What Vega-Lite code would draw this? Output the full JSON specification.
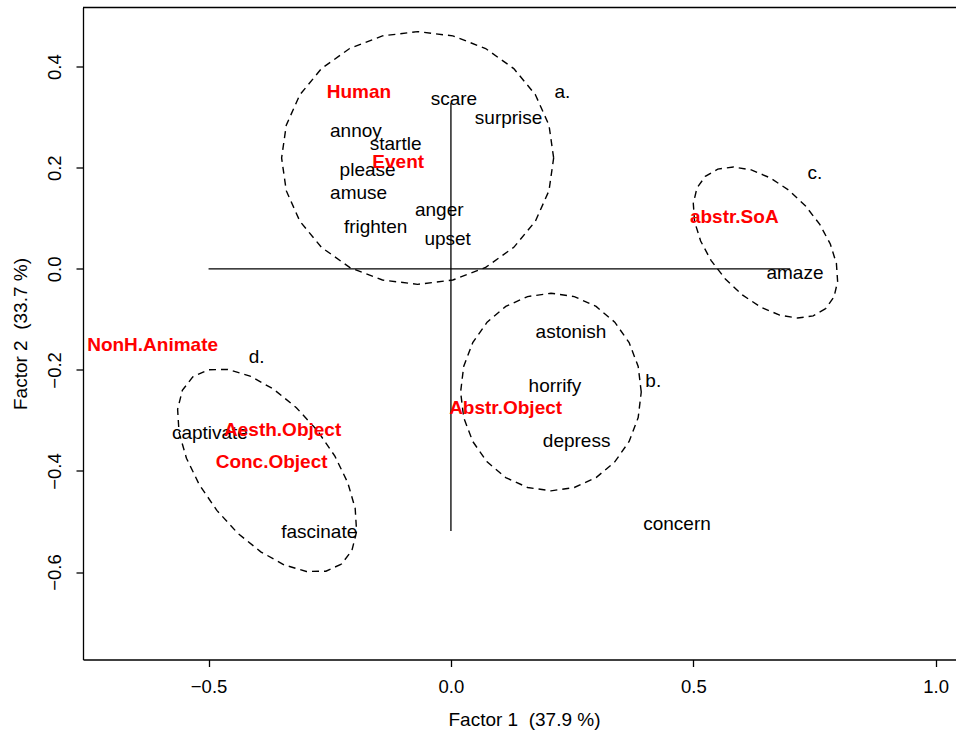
{
  "$schema": "https://vega.github.io/schema/vega-lite/v6.json",
  "autosize": {"type": "none"},
  "width": 873,
  "height": 652,
  "padding": {"left": 83, "top": 7.5, "right": 0, "bottom": 70.5},
  "background": "white",
  "datasets": {
    "rules": [
      {"x": -0.5, "x2": 0.70, "y": 0, "y2": 0},
      {"x": 0, "x2": 0, "y": 0.3275, "y2": -0.519},
      {"x": -0.759, "x2": 1.0419, "y": 0.517, "y2": 0.517}
    ],
    "ell": [
      {"grp": "a", "ord": 0, "x": 0.2119, "y": 0.2193},
      {"grp": "a", "ord": 1, "x": 0.2023, "y": 0.2840},
      {"grp": "a", "ord": 2, "x": 0.1743, "y": 0.3443},
      {"grp": "a", "ord": 3, "x": 0.1297, "y": 0.3961},
      {"grp": "a", "ord": 4, "x": 0.0716, "y": 0.4358},
      {"grp": "a", "ord": 5, "x": 0.0039, "y": 0.4608},
      {"grp": "a", "ord": 6, "x": -0.0687, "y": 0.4693},
      {"grp": "a", "ord": 7, "x": -0.1413, "y": 0.4608},
      {"grp": "a", "ord": 8, "x": -0.2090, "y": 0.4358},
      {"grp": "a", "ord": 9, "x": -0.2671, "y": 0.3961},
      {"grp": "a", "ord": 10, "x": -0.3117, "y": 0.3443},
      {"grp": "a", "ord": 11, "x": -0.3397, "y": 0.2840},
      {"grp": "a", "ord": 12, "x": -0.3493, "y": 0.2193},
      {"grp": "a", "ord": 13, "x": -0.3397, "y": 0.1546},
      {"grp": "a", "ord": 14, "x": -0.3117, "y": 0.0943},
      {"grp": "a", "ord": 15, "x": -0.2671, "y": 0.0425},
      {"grp": "a", "ord": 16, "x": -0.2090, "y": 0.0028},
      {"grp": "a", "ord": 17, "x": -0.1413, "y": -0.0222},
      {"grp": "a", "ord": 18, "x": -0.0687, "y": -0.0307},
      {"grp": "a", "ord": 19, "x": 0.0039, "y": -0.0222},
      {"grp": "a", "ord": 20, "x": 0.0716, "y": 0.0028},
      {"grp": "a", "ord": 21, "x": 0.1297, "y": 0.0425},
      {"grp": "a", "ord": 22, "x": 0.1743, "y": 0.0943},
      {"grp": "a", "ord": 23, "x": 0.2023, "y": 0.1546},
      {"grp": "a", "ord": 24, "x": 0.2119, "y": 0.2193},

      {"grp": "b", "ord": 0, "x": 0.3926, "y": -0.2438},
      {"grp": "b", "ord": 1, "x": 0.3863, "y": -0.1932},
      {"grp": "b", "ord": 2, "x": 0.3676, "y": -0.1460},
      {"grp": "b", "ord": 3, "x": 0.3380, "y": -0.1056},
      {"grp": "b", "ord": 4, "x": 0.2995, "y": -0.0745},
      {"grp": "b", "ord": 5, "x": 0.2545, "y": -0.0550},
      {"grp": "b", "ord": 6, "x": 0.2063, "y": -0.0483},
      {"grp": "b", "ord": 7, "x": 0.1581, "y": -0.0550},
      {"grp": "b", "ord": 8, "x": 0.1131, "y": -0.0745},
      {"grp": "b", "ord": 9, "x": 0.0746, "y": -0.1056},
      {"grp": "b", "ord": 10, "x": 0.0450, "y": -0.1460},
      {"grp": "b", "ord": 11, "x": 0.0263, "y": -0.1932},
      {"grp": "b", "ord": 12, "x": 0.0200, "y": -0.2438},
      {"grp": "b", "ord": 13, "x": 0.0263, "y": -0.2944},
      {"grp": "b", "ord": 14, "x": 0.0450, "y": -0.3416},
      {"grp": "b", "ord": 15, "x": 0.0746, "y": -0.3820},
      {"grp": "b", "ord": 16, "x": 0.1131, "y": -0.4131},
      {"grp": "b", "ord": 17, "x": 0.1581, "y": -0.4326},
      {"grp": "b", "ord": 18, "x": 0.2063, "y": -0.4393},
      {"grp": "b", "ord": 19, "x": 0.2545, "y": -0.4326},
      {"grp": "b", "ord": 20, "x": 0.2995, "y": -0.4131},
      {"grp": "b", "ord": 21, "x": 0.3380, "y": -0.3820},
      {"grp": "b", "ord": 22, "x": 0.3676, "y": -0.3416},
      {"grp": "b", "ord": 23, "x": 0.3863, "y": -0.2944},
      {"grp": "b", "ord": 24, "x": 0.3926, "y": -0.2438},

      {"grp": "c", "ord": 0, "x": 0.7730, "y": -0.0789},
      {"grp": "c", "ord": 1, "x": 0.7473, "y": -0.0931},
      {"grp": "c", "ord": 2, "x": 0.7150, "y": -0.0974},
      {"grp": "c", "ord": 3, "x": 0.6781, "y": -0.0916},
      {"grp": "c", "ord": 4, "x": 0.6393, "y": -0.0759},
      {"grp": "c", "ord": 5, "x": 0.6011, "y": -0.0516},
      {"grp": "c", "ord": 6, "x": 0.5661, "y": -0.0201},
      {"grp": "c", "ord": 7, "x": 0.5368, "y": 0.0162},
      {"grp": "c", "ord": 8, "x": 0.5151, "y": 0.0550},
      {"grp": "c", "ord": 9, "x": 0.5026, "y": 0.0936},
      {"grp": "c", "ord": 10, "x": 0.5000, "y": 0.1293},
      {"grp": "c", "ord": 11, "x": 0.5075, "y": 0.1598},
      {"grp": "c", "ord": 12, "x": 0.5247, "y": 0.1830},
      {"grp": "c", "ord": 13, "x": 0.5504, "y": 0.1972},
      {"grp": "c", "ord": 14, "x": 0.5827, "y": 0.2015},
      {"grp": "c", "ord": 15, "x": 0.6196, "y": 0.1957},
      {"grp": "c", "ord": 16, "x": 0.6585, "y": 0.1800},
      {"grp": "c", "ord": 17, "x": 0.6967, "y": 0.1557},
      {"grp": "c", "ord": 18, "x": 0.7316, "y": 0.1242},
      {"grp": "c", "ord": 19, "x": 0.7609, "y": 0.0879},
      {"grp": "c", "ord": 20, "x": 0.7826, "y": 0.0491},
      {"grp": "c", "ord": 21, "x": 0.7952, "y": 0.0105},
      {"grp": "c", "ord": 22, "x": 0.7977, "y": -0.0252},
      {"grp": "c", "ord": 23, "x": 0.7902, "y": -0.0557},
      {"grp": "c", "ord": 24, "x": 0.7730, "y": -0.0789},

      {"grp": "d", "ord": 0, "x": -0.2259, "y": -0.5842},
      {"grp": "d", "ord": 1, "x": -0.2579, "y": -0.5983},
      {"grp": "d", "ord": 2, "x": -0.2982, "y": -0.5988},
      {"grp": "d", "ord": 3, "x": -0.3441, "y": -0.5858},
      {"grp": "d", "ord": 4, "x": -0.3923, "y": -0.5599},
      {"grp": "d", "ord": 5, "x": -0.4397, "y": -0.5232},
      {"grp": "d", "ord": 6, "x": -0.4829, "y": -0.4779},
      {"grp": "d", "ord": 7, "x": -0.5190, "y": -0.4273},
      {"grp": "d", "ord": 8, "x": -0.5456, "y": -0.3747},
      {"grp": "d", "ord": 9, "x": -0.5609, "y": -0.3238},
      {"grp": "d", "ord": 10, "x": -0.5638, "y": -0.2781},
      {"grp": "d", "ord": 11, "x": -0.5541, "y": -0.2405},
      {"grp": "d", "ord": 12, "x": -0.5325, "y": -0.2138},
      {"grp": "d", "ord": 13, "x": -0.5005, "y": -0.1997},
      {"grp": "d", "ord": 14, "x": -0.4602, "y": -0.1991},
      {"grp": "d", "ord": 15, "x": -0.4143, "y": -0.2122},
      {"grp": "d", "ord": 16, "x": -0.3661, "y": -0.2380},
      {"grp": "d", "ord": 17, "x": -0.3188, "y": -0.2748},
      {"grp": "d", "ord": 18, "x": -0.2756, "y": -0.3200},
      {"grp": "d", "ord": 19, "x": -0.2394, "y": -0.3706},
      {"grp": "d", "ord": 20, "x": -0.2128, "y": -0.4232},
      {"grp": "d", "ord": 21, "x": -0.1975, "y": -0.4741},
      {"grp": "d", "ord": 22, "x": -0.1946, "y": -0.5199},
      {"grp": "d", "ord": 23, "x": -0.2043, "y": -0.5574},
      {"grp": "d", "ord": 24, "x": -0.2259, "y": -0.5842}
    ],
    "words": [
      {"label": "scare", "x": 0.0062, "y": 0.3350},
      {"label": "surprise", "x": 0.1190, "y": 0.2984},
      {"label": "a.", "x": 0.2300, "y": 0.3489},
      {"label": "annoy", "x": -0.1960, "y": 0.2717},
      {"label": "startle", "x": -0.1141, "y": 0.2470},
      {"label": "please", "x": -0.1719, "y": 0.1955},
      {"label": "amuse", "x": -0.1904, "y": 0.1500},
      {"label": "anger", "x": -0.0241, "y": 0.1164},
      {"label": "frighten", "x": -0.1554, "y": 0.0827},
      {"label": "upset", "x": -0.0068, "y": 0.0584},
      {"label": "c.", "x": 0.7510, "y": 0.1902},
      {"label": "amaze", "x": 0.7097, "y": -0.0077},
      {"label": "astonish", "x": 0.2476, "y": -0.1257},
      {"label": "horrify", "x": 0.2146, "y": -0.2319},
      {"label": "b.", "x": 0.4174, "y": -0.2220},
      {"label": "depress", "x": 0.2593, "y": -0.3408},
      {"label": "concern", "x": 0.4663, "y": -0.5051},
      {"label": "d.", "x": -0.4009, "y": -0.1740},
      {"label": "captivate", "x": -0.4972, "y": -0.3256},
      {"label": "fascinate", "x": -0.2717, "y": -0.5203}
    ],
    "cats": [
      {"label": "Human", "x": -0.1898, "y": 0.3499},
      {"label": "Event", "x": -0.1087, "y": 0.2114},
      {"label": "abstr.SoA", "x": 0.5845, "y": 0.1031},
      {"label": "NonH.Animate", "x": -0.6154, "y": -0.1508},
      {"label": "Abstr.Object", "x": 0.1128, "y": -0.2749},
      {"label": "Aesth.Object", "x": -0.3472, "y": -0.3190},
      {"label": "Conc.Object", "x": -0.3699, "y": -0.3817}
    ]
  },
  "encoding": {
    "x": {
      "field": "x", "type": "quantitative",
      "scale": {"domain": [-0.759, 1.0419], "nice": false, "zero": false},
      "axis": {
        "title": "Factor 1\u00a0 (37.9 %)",
        "values": [-0.5, 0, 0.5, 1],
        "format": ".1f",
        "titleX": 441, "titleY": 66
      }
    },
    "y": {
      "field": "y", "type": "quantitative",
      "scale": {"domain": [-0.773, 0.517], "nice": false, "zero": false},
      "axis": {
        "title": "Factor 2\u00a0 (33.7 %)",
        "values": [-0.6, -0.4, -0.2, 0, 0.2, 0.4],
        "format": ".1f",
        "titleX": -56.3, "titleY": 326
      }
    }
  },
  "layer": [
    {
      "data": {"name": "rules"},
      "mark": {"type": "rule", "color": "black", "strokeWidth": 1.3},
      "encoding": {
        "x2": {"field": "x2"},
        "y2": {"field": "y2"}
      }
    },
    {
      "data": {"name": "ell"},
      "mark": {"type": "line", "color": "black", "strokeWidth": 1.4, "strokeDash": [7, 5], "interpolate": "linear"},
      "encoding": {
        "detail": {"field": "grp", "type": "nominal"},
        "order": {"field": "ord", "type": "quantitative"}
      }
    },
    {
      "data": {"name": "words"},
      "mark": {"type": "text", "font": "Liberation Sans", "fontSize": 19, "color": "black", "align": "center", "baseline": "middle"},
      "encoding": {"text": {"field": "label"}}
    },
    {
      "data": {"name": "cats"},
      "mark": {"type": "text", "font": "Liberation Sans", "fontSize": 19, "fontWeight": "bold", "color": "#FF0000", "align": "center", "baseline": "middle"},
      "encoding": {"text": {"field": "label"}}
    }
  ],
  "config": {
    "view": {"stroke": null},
    "axisX": {
      "domain": true, "domainColor": "black", "domainWidth": 1.3,
      "grid": false,
      "ticks": true, "tickColor": "black", "tickSize": 7, "tickWidth": 1.3,
      "labelFont": "Liberation Sans", "labelFontSize": 18.5, "labelColor": "black",
      "labelBaseline": "alphabetic", "labelPadding": 25.5,
      "labelFlush": false, "labelOverlap": false,
      "titleFont": "Liberation Sans", "titleFontSize": 19, "titleFontWeight": "normal", "titleColor": "black",
      "titleBaseline": "alphabetic", "titleAlign": "center"
    },
    "axisY": {
      "domain": true, "domainColor": "black", "domainWidth": 1.3,
      "grid": false,
      "ticks": true, "tickColor": "black", "tickSize": 7, "tickWidth": 1.3,
      "labelFont": "Liberation Sans", "labelFontSize": 18.5, "labelColor": "black",
      "labelAngle": 270, "labelAlign": "center", "labelBaseline": "alphabetic", "labelPadding": 16,
      "labelFlush": false, "labelOverlap": false,
      "titleFont": "Liberation Sans", "titleFontSize": 19, "titleFontWeight": "normal", "titleColor": "black",
      "titleAngle": 270, "titleBaseline": "alphabetic", "titleAlign": "center"
    }
  }
}
